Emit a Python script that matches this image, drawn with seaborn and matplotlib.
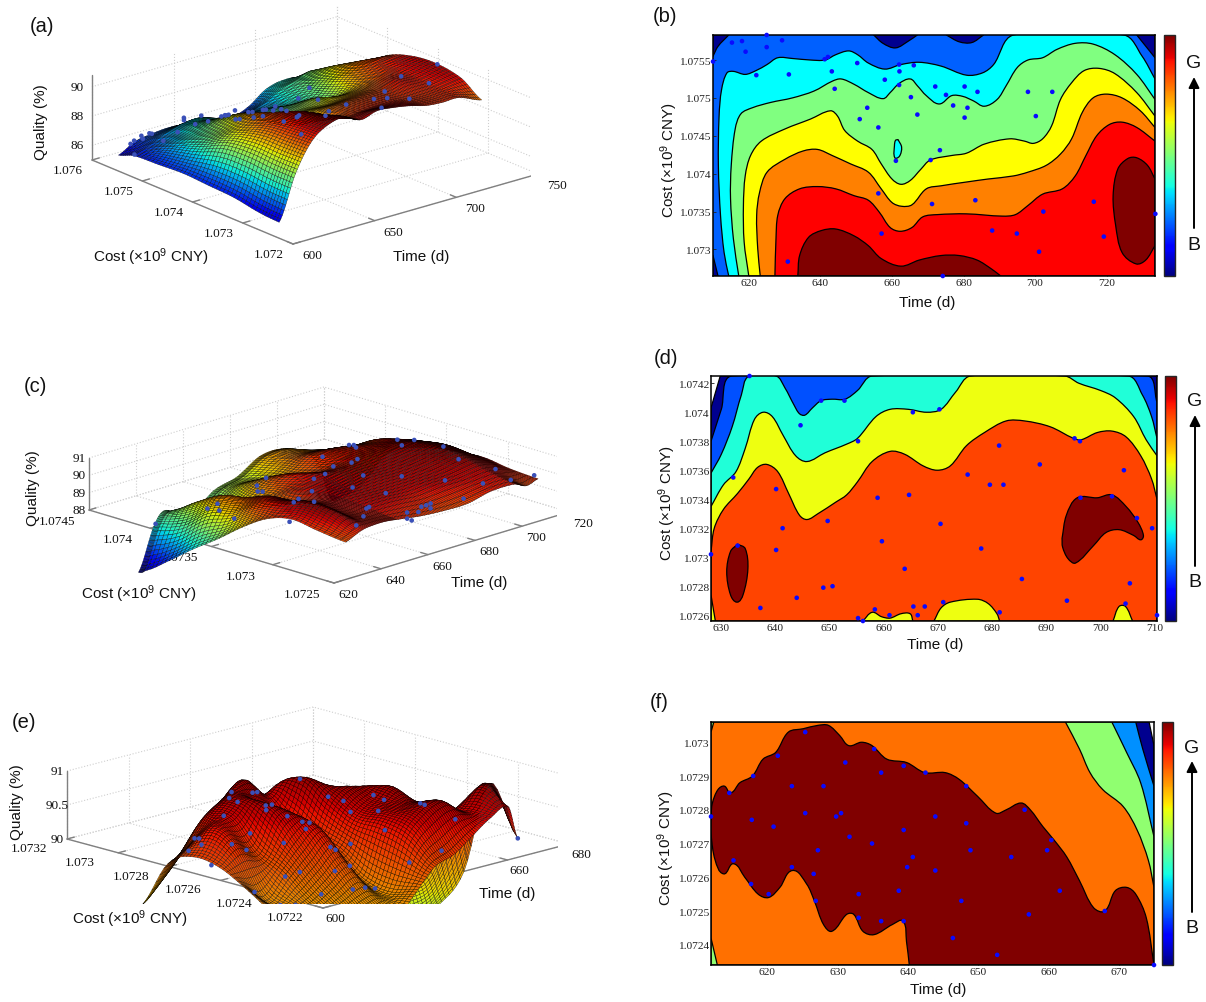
import numpy as np
import matplotlib
matplotlib.use("Agg")
import matplotlib.pyplot as plt
from matplotlib.path import Path
from matplotlib.patches import PathPatch, Rectangle, FancyArrowPatch
from matplotlib.cm import ScalarMappable
from matplotlib.colors import Normalize
from mpl_toolkits.mplot3d import proj3d
import seaborn as sns

sns.set_theme(style="white")
plt.rcParams["font.family"] = ["Liberation Sans", "DejaVu Sans"]
plt.rcParams["mathtext.default"] = "regular"

W, H = 1206, 1003
SERIF = ["Liberation Serif", "DejaVu Serif"]
COST_LABEL = r"Cost ($\times$10$^9$ CNY)"
jet = plt.get_cmap("jet")

# ---- surface (a): quality read at knots of time and cost
a_time = [610, 620, 630, 640, 650, 660, 670, 680, 690, 700, 710, 720, 734]
a_cost = [1.0726, 1.0730, 1.0735, 1.0740, 1.0745, 1.0750, 1.0755, 1.0758]
a_quality = [
    [85.3, 88.3, 90.2, 91.0, 91.2, 90.7, 91.0, 90.9, 90.7, 90.4, 90.3, 90.3, 89.7],
    [85.4, 88.3, 90.1, 90.9, 90.8, 90.2, 90.3, 90.4, 90.4, 90.3, 90.3, 90.4, 90.6],
    [85.7, 88.4, 89.9, 90.4, 90.3, 89.3, 89.8, 90.0, 90.1, 90.2, 90.5, 90.5, 90.9],
    [85.8, 88.2, 89.2, 89.8, 89.3, 88.3, 88.9, 89.0, 89.2, 89.4, 89.9, 90.4, 90.7],
    [85.9, 87.4, 88.2, 88.9, 88.7, 87.9, 87.9, 88.2, 88.5, 88.2, 89.3, 90.0, 90.0],
    [85.8, 86.8, 87.3, 87.8, 87.6, 87.4, 87.2, 87.4, 87.3, 87.6, 88.5, 89.1, 88.4],
    [85.7, 86.1, 86.6, 86.9, 87.0, 86.6, 86.5, 86.4, 86.7, 87.3, 87.7, 88.0, 87.0],
    [85.3, 85.9, 86.1, 86.2, 86.1, 85.6, 85.9, 85.7, 86.1, 86.9, 87.2, 87.0, 85.5],
]
# ---- surface (c)
c_time = [628, 635, 640, 645, 650, 660, 670, 680, 690, 700, 705, 710]
c_cost = [1.07256, 1.0728, 1.0730, 1.0732, 1.0734, 1.0736, 1.0738, 1.0740, 1.0742, 1.07425]
c_quality = [
    [89.9, 90.3, 90.4, 90.4, 90.3, 90.1, 90.0, 90.0, 90.3, 90.3, 90.0, 90.2],
    [90.1, 90.9, 90.5, 90.4, 90.5, 90.5, 90.4, 90.5, 90.5, 90.6, 90.5, 90.3],
    [90.3, 91.0, 90.6, 90.5, 90.6, 90.6, 90.6, 90.6, 90.7, 91.0, 90.8, 90.5],
    [89.9, 90.6, 90.4, 90.2, 90.5, 90.6, 90.7, 90.7, 90.8, 91.1, 91.0, 90.4],
    [89.0, 90.1, 90.3, 89.6, 90.2, 90.5, 90.6, 90.7, 90.8, 90.95, 90.8, 90.2],
    [87.9, 89.2, 89.8, 89.0, 89.5, 90.3, 90.0, 90.4, 90.5, 90.5, 90.5, 89.8],
    [86.9, 88.8, 89.5, 88.4, 88.9, 89.7, 89.5, 90.2, 90.2, 90.0, 90.0, 89.0],
    [85.8, 87.7, 88.7, 87.3, 88.0, 88.9, 88.9, 89.6, 89.6, 89.3, 88.8, 86.8],
    [84.8, 87.2, 87.8, 86.8, 87.0, 88.1, 88.5, 89.3, 89.3, 88.6, 87.6, 85.6],
    [84.6, 87.1, 87.7, 86.7, 86.9, 88.0, 88.4, 89.2, 89.2, 88.5, 87.5, 85.4],
]
# ---- surface (e)
e_time = [612, 618, 624, 630, 636, 642, 648, 654, 660, 666, 672, 675]
e_cost = [1.07234, 1.07245, 1.07255, 1.07265, 1.07275, 1.07285, 1.07295, 1.07306]
e_quality = [
    [88.9, 89.0, 89.1, 89.2, 89.3, 89.6, 89.9, 90.0, 90.2, 90.4, 90.5, 90.0],
    [89.2, 89.3, 89.3, 89.4, 89.5, 89.5, 90.2, 90.5, 90.6, 90.4, 90.7, 90.7],
    [89.45, 89.4, 89.5, 89.7, 89.9, 89.6, 90.3, 90.5, 90.5, 90.2, 90.0, 89.3],
    [89.7, 89.5, 89.8, 90.1, 90.3, 89.9, 90.3, 90.5, 90.6, 89.6, 89.1, 88.7],
    [89.9, 90.1, 90.0, 90.5, 90.4, 90.0, 90.5, 90.6, 90.3, 89.3, 88.8, 88.3],
    [89.95, 90.3, 90.4, 90.6, 90.3, 90.2, 90.7, 90.2, 89.5, 89.0, 88.5, 88.0],
    [89.75, 89.9, 90.3, 90.5, 90.7, 90.4, 90.4, 89.6, 89.1, 88.7, 88.1, 87.6],
    [89.0, 89.3, 89.6, 89.7, 89.7, 89.4, 89.3, 89.1, 88.9, 88.4, 87.5, 87.0],
]

# ---- sample points (same for surface and contour panel)
b_dot_t = [610, 615.3, 618.1, 625, 629.3, 625, 619.1, 622.1, 631.2, 641.2, 642.1, 643.2, 650.3, 644, 658, 662, 662.1,
           666.1, 662, 672.1, 675.1, 680.3, 683.9, 698, 704.8, 665.3, 677.1, 681.1, 653.1, 651, 667.1, 680.3, 700.2,
           656.2, 673.4, 661.1, 670.8, 656.2, 671.2, 683.3, 716.4, 702.3, 733.6, 657.1, 688, 694.9, 719.2, 701.1,
           630.9, 674.2]
b_dot_c = [1.07548, 1.07573, 1.07575, 1.07583, 1.07576, 1.07567, 1.07561, 1.0753, 1.07531, 1.07551, 1.07554, 1.07535,
           1.07546, 1.07512, 1.07524, 1.07544, 1.07535, 1.07543, 1.07517, 1.07515, 1.07504, 1.07515, 1.07508, 1.07508,
           1.07508, 1.07501, 1.0749, 1.07487, 1.07487, 1.07472, 1.07478, 1.07474, 1.07476, 1.07461, 1.07431, 1.07417,
           1.07418, 1.07374, 1.0736, 1.07365, 1.07363, 1.0735, 1.07347, 1.07321, 1.07325, 1.07321, 1.07317, 1.07297,
           1.07284, 1.07265]
a_dot_q = [85.8, 86.0, 86.1, 86.1, 86.2, 86.5, 86.4, 86.6, 86.9, 87.1, 87.2, 87.0, 87.2, 87.5, 87.3, 86.8, 87.0, 86.8,
           87.6, 87.2, 87.4, 87.1, 87.3, 87.4, 87.9, 87.6, 87.5, 87.5, 87.7, 88.0, 87.6, 87.6, 87.7, 88.1, 88.0, 88.3,
           88.4, 89.4, 89.5, 89.5, 90.4, 90.0, 90.9, 90.2, 90.3, 90.2, 90.5, 90.3, 90.3, 91.0]

d_dot_t = [635.3, 628.2, 632.3, 633.1, 637.3, 640.2, 640.2, 641.4, 644, 644.7, 648.5, 652.8, 649.7, 648.9, 650.6, 655.3,
           658.9, 659.7, 658.4, 655.3, 656.2, 661.1, 663.9, 664.7, 665.4, 665.5, 666.3, 667.6, 670.3, 670.5, 671, 675.5,
           678, 679.6, 681.3, 682.1, 681.4, 685.5, 688.8, 693.8, 695.2, 696.2, 696.3, 702.1, 704.3, 706.7, 709.5,
           705.4, 704.6, 710.4]
d_dot_c = [1.07425, 1.07302, 1.07355, 1.07308, 1.07265, 1.07347, 1.07305, 1.0732, 1.07272, 1.07391, 1.07408, 1.07408,
           1.07325, 1.07279, 1.0728, 1.0738, 1.07341, 1.07311, 1.07264, 1.07258, 1.07256, 1.0726, 1.07292, 1.07343,
           1.074, 1.07266, 1.0726, 1.07266, 1.07402, 1.07323, 1.07269, 1.07357, 1.07306, 1.0735, 1.07377, 1.0735,
           1.07262, 1.07285, 1.07364, 1.0727, 1.07382, 1.0738, 1.07341, 1.07342, 1.0736, 1.07327, 1.0732, 1.07282,
           1.07268, 1.0726]
c_dot_q = [87.1, 90.1, 89.0, 90.9, 90.3, 90.4, 90.7, 90.5, 90.4, 88.2, 87.8, 87.9, 90.5, 90.5, 90.5, 89.1, 90.5, 90.6,
           90.2, 90.1, 90.0, 90.2, 90.5, 90.5, 88.6, 90.2, 90.2, 90.2, 88.8, 90.6, 90.1, 90.2, 90.6, 90.4, 90.1, 90.5,
           90.1, 90.5, 90.6, 90.3, 90.1, 90.1, 90.9, 90.95, 90.5, 90.7, 90.0, 90.4, 90.1, 90.3]

f_dot_t = [612, 614.6, 618, 621.5, 625.4, 635.2, 631.1, 636.2, 639.4, 642.5, 648.3, 628, 623.5, 625.4, 629.8, 630.5,
           617.8, 620.9, 631.7, 634.9, 639.4, 643.9, 648.3, 656.6, 660.4, 627.2, 640.7, 648.9, 654.7, 659.8, 615.2,
           623.5, 626.6, 639.9, 643.9, 617.7, 620.2, 626.9, 633, 638.7, 647.6, 661.6, 633, 636.2, 639.4, 646.4, 652.7,
           657.2, 668, 675]
f_dot_c = [1.07278, 1.07285, 1.0729, 1.07296, 1.07303, 1.07298, 1.07294, 1.07291, 1.07293, 1.07291, 1.07287, 1.07287,
           1.07287, 1.07279, 1.07278, 1.07279, 1.07277, 1.07275, 1.07272, 1.0727, 1.07274, 1.07278, 1.07276, 1.0728,
           1.07271, 1.07268, 1.07266, 1.07268, 1.07266, 1.07268, 1.07265, 1.07263, 1.07261, 1.07263, 1.07262, 1.07258,
           1.07255, 1.07253, 1.07255, 1.07256, 1.07253, 1.07256, 1.07248, 1.07247, 1.07247, 1.07242, 1.07237, 1.07249,
           1.0725, 1.07234]
e_dot_q = [89.9, 90.1, 90.1, 90.0, 89.7, 90.5, 90.5, 90.55, 90.5, 90.3, 90.65, 90.55, 90.4, 90.2, 90.5, 90.55, 90.15,
           90.05, 90.45, 90.35, 90.15, 90.15, 90.5, 90.3, 90.2, 90.15, 89.95, 90.35, 90.55, 90.4, 89.6, 89.75, 89.8,
           89.95, 90.0, 89.45, 89.45, 89.55, 89.8, 89.8, 90.25, 90.45, 89.6, 89.6, 89.55, 89.9, 90.05, 90.55, 90.2,
           90.0]

# ---- contour (b) boundaries
b_nw_t = [610, 611.4, 614.4]
b_nw_c = [1.07555, 1.07568, 1.07583]
b_sw_t = [610, 611.4]
b_sw_c = [1.07292, 1.07265]
b_lens1_t = [654.9, 657.5, 661.0, 664.6, 667.1]
b_lens1_c = [1.07583, 1.07572, 1.07566, 1.07575, 1.07583]
b_lens2_t = [675.2, 678.8, 682.3, 685.6]
b_lens2_c = [1.07583, 1.07574, 1.07573, 1.07583]
b_ne_t = [728.4, 733.5]
b_ne_c = [1.07583, 1.07553]
b_cyan_t = [614.4, 613.1, 612.1, 611.5, 611.7, 612.4, 613.9, 615.7, 619.0, 622.0, 625.1, 628.1, 632.2, 637.2, 641.3,
            644.3, 647.9, 650.4, 653.4, 658.0, 662.5, 667.6, 673.7, 680.8, 685.3, 688.4, 694.0, 724.8, 729.9, 733.5]
b_cyan_c = [1.07265, 1.07296, 1.07345, 1.07411, 1.07476, 1.07511, 1.07533, 1.07535, 1.07531, 1.07536, 1.07544, 1.07553,
            1.07552, 1.0755, 1.0755, 1.07557, 1.07562, 1.07557, 1.07546, 1.07538, 1.07544, 1.07547, 1.07542, 1.0753,
            1.07533, 1.07544, 1.07583, 1.07583, 1.07555, 1.07525]
b_green_t = [617.2, 615.7, 614.9, 615.1, 616.2, 617.8, 621.0, 626.1, 632.2, 638.2, 643.3, 645.8, 649.4, 653.4, 657.5,
             659.5, 662.0, 665.1, 667.1, 669.6, 673.2, 676.7, 679.8, 682.8, 685.8, 689.4, 691.9, 695.0, 698.0, 702.1,
             706.1, 711.2, 716.2, 722.3, 728.4, 733.5]
b_green_c = [1.07265, 1.07314, 1.07367, 1.07411, 1.07459, 1.07479, 1.07487, 1.07494, 1.075, 1.07509, 1.07522, 1.07525,
             1.07518, 1.07507, 1.07499, 1.07507, 1.07519, 1.07525, 1.07516, 1.07503, 1.07492, 1.07503, 1.07502, 1.07496,
             1.07489, 1.07498, 1.07516, 1.0754, 1.0755, 1.07553, 1.07564, 1.07572, 1.07571, 1.07557, 1.07531, 1.07498]
b_blob_t = [661.7, 662.7, 662.1, 660.8, 660.7, 661.0, 661.7]
b_blob_c = [1.07445, 1.07435, 1.07423, 1.07421, 1.07437, 1.07444, 1.07445]
b_yellow_t = [620, 618.7, 618.5, 619, 620.5, 623.5, 630.1, 637.2, 642.8, 644.8, 646.8, 650.4, 654.4, 657, 660, 662.5,
              665.1, 668.1, 670.7, 676.7, 680.8, 685.8, 692.9, 697, 699.5, 702.1, 704.6, 707.1, 710.2, 713.7, 717.8,
              722.3, 728.4, 733.5]
b_yellow_c = [1.07265, 1.0731, 1.07358, 1.07397, 1.07424, 1.07443, 1.07459, 1.07472, 1.07483, 1.07476, 1.07457, 1.07443,
              1.07432, 1.07413, 1.07393, 1.07386, 1.07391, 1.07406, 1.07418, 1.07424, 1.07427, 1.07439, 1.07446, 1.07443,
              1.0744, 1.07446, 1.07463, 1.07498, 1.0752, 1.07536, 1.07539, 1.07532, 1.07507, 1.07476]
b_orange_t = [623.2, 622.5, 622.2, 623, 625.1, 630.1, 635.2, 639.2, 643.3, 648.4, 653.4, 657, 660, 662.7, 665.6, 669.6,
              673.7, 680.8, 686.9, 693.9, 698, 703.1, 707.1, 710.2, 713.2, 716.2, 719.8, 724.3, 729.4, 733.5]
b_orange_c = [1.07265, 1.07301, 1.07345, 1.07375, 1.07402, 1.07419, 1.0743, 1.07432, 1.07424, 1.07413, 1.07402, 1.0738,
              1.07362, 1.07357, 1.07359, 1.0738, 1.07384, 1.07389, 1.07393, 1.07397, 1.07402, 1.07411, 1.07426, 1.07446,
              1.07481, 1.075, 1.07505, 1.075, 1.07483, 1.07461]
b_red_t = [627.3, 627.6, 628.1, 630.1, 634.2, 639.2, 644.3, 649.4, 653.4, 656.5, 659.5, 662.3, 665.6, 668.6, 672.7,
           680.8, 690.9, 694.5, 698, 702.1, 707.6, 711.2, 714.2, 717.2, 720.8, 724.3, 728.4, 733.5]
b_red_c = [1.07265, 1.07314, 1.07345, 1.07367, 1.0738, 1.07383, 1.0738, 1.07371, 1.07365, 1.07349, 1.07329, 1.07324,
           1.07329, 1.07343, 1.07346, 1.07347, 1.07344, 1.07346, 1.07358, 1.07373, 1.0738, 1.07397, 1.07424, 1.0745,
           1.07465, 1.07468, 1.07461, 1.07443]
b_top1_t = [633.7, 634.2, 636.7, 640.3, 644.3, 649.4, 653.4, 657, 662.5, 667.6, 673.7, 678.8, 683.8, 687.9, 690.4]
b_top1_c = [1.07265, 1.07292, 1.07316, 1.07325, 1.07327, 1.07318, 1.07305, 1.07288, 1.07278, 1.07286, 1.07292, 1.07292,
            1.07286, 1.07274, 1.07265]
b_top2_t = [733.5, 731.4, 728.4, 725.9, 723.1, 721.8, 722.5, 724.3, 728.2, 730.9, 733.5]
b_top2_c = [1.07393, 1.07411, 1.07421, 1.0742, 1.07406, 1.07371, 1.07332, 1.07296, 1.07281, 1.07286, 1.07305]

# ---- contour (d) boundaries
d_navy_t = [628.2, 629.9]
d_navy_c = [1.07403, 1.07425]
d_blue_t = [628.2, 630.1, 632.1, 708.6, 710.4]
d_blue_c = [1.0738, 1.07402, 1.07425, 1.07425, 1.07407]
d_aqua_t = [628.2, 630.1, 632.1, 633.8, 635.2, 640.2, 641.8, 643.5, 644.5, 645.5, 646.9, 648.5, 650.5, 652.9, 655.2,
            657.9, 705.1, 707.7, 709.4, 710.4]
d_aqua_c = [1.07358, 1.07371, 1.0739, 1.07412, 1.07425, 1.07425, 1.07417, 1.07405, 1.07399, 1.07398, 1.07403, 1.07408,
            1.07409, 1.07409, 1.07415, 1.07425, 1.07425, 1.07412, 1.07397, 1.07382]
d_yellow_t = [628.2, 630.5, 632.8, 634.5, 636.2, 637.8, 639.5, 641.5, 643.8, 645.9, 649.2, 653.2, 655.2, 658.6, 661.2,
              664.6, 667.9, 670.6, 673.3, 676, 693.4, 696, 700, 702.7, 706.1, 708.4, 710.4]
d_yellow_c = [1.07335, 1.0735, 1.07359, 1.07375, 1.07395, 1.074, 1.07397, 1.07384, 1.0737, 1.07366, 1.07372, 1.07378,
              1.07382, 1.07397, 1.07402, 1.07402, 1.074, 1.07402, 1.07414, 1.07425, 1.07425, 1.0742, 1.07415, 1.0741,
              1.07397, 1.07381, 1.0737]
d_orange_t = [628.2, 628.8, 630.5, 633.1, 635.2, 636.8, 638.5, 640.5, 642.5, 644.5, 645.9, 647.9, 651.2, 653.2, 655.2,
              657.9, 661.2, 663.9, 667.3, 669.9, 672.3, 675.3, 678.6, 682.6, 686, 690.7, 695, 696.4, 699.4, 702.1,
              704.7, 707.4, 709.4, 710.4]
d_orange_c = [1.07304, 1.0732, 1.07333, 1.07344, 1.07354, 1.07362, 1.07364, 1.07359, 1.07344, 1.07329, 1.07326, 1.0733,
              1.07338, 1.07343, 1.07352, 1.07366, 1.07373, 1.07371, 1.07363, 1.0736, 1.07363, 1.07377, 1.07386, 1.07394,
              1.07394, 1.0739, 1.07382, 1.07381, 1.07386, 1.07387, 1.07383, 1.0737, 1.07354, 1.0734]
d_low1_t = [656.2, 657.9, 659.6, 661.2, 663.2, 664.9, 665.4]
d_low1_c = [1.07256, 1.07262, 1.07259, 1.07258, 1.07261, 1.07261, 1.07256]
d_low2_t = [669.3, 670.6, 672.3, 677.3, 679.3, 680.9, 681.4]
d_low2_c = [1.07256, 1.07265, 1.07269, 1.07271, 1.07268, 1.07261, 1.07256]
d_low3_t = [702.3, 703.4, 704.6, 705.9]
d_low3_c = [1.07256, 1.07266, 1.07266, 1.07256]
d_top1_t = [633.1, 634.5, 635, 634.1, 633, 631.8, 631.1, 631.8, 633.1]
d_top1_c = [1.07309, 1.07306, 1.07292, 1.07274, 1.07269, 1.07274, 1.0729, 1.07304, 1.07309]
d_top2_t = [692.9, 693.7, 695.7, 699.4, 702.1, 704.7, 706.9, 707.9, 707.4, 706.1, 703.4, 701, 698.7, 695.4, 694, 693,
            692.9]
d_top2_c = [1.07313, 1.07329, 1.07341, 1.07341, 1.07343, 1.07335, 1.07324, 1.07315, 1.07312, 1.07315, 1.07319, 1.07317,
            1.07308, 1.07296, 1.07299, 1.07307, 1.07313]

# ---- contour (f) boundaries
f_navy_t = [674.3, 675]
f_navy_c = [1.07306, 1.07299]
f_blue_t = [672.4, 673.4, 675]
f_blue_c = [1.07306, 1.07298, 1.07287]
f_green_t = [669, 671.1, 673.1, 675]
f_green_c = [1.07306, 1.07297, 1.07288, 1.07272]
f_orange_t = [662.4, 664.4, 665.9, 667.7, 670.6, 672.6, 674.2, 675]
f_orange_c = [1.07306, 1.07298, 1.07291, 1.07286, 1.07281, 1.07274, 1.07265, 1.07257]
f_top_t = [640.2, 639.8, 639.3, 637.8, 635.2, 633.6, 632.3, 631.3, 629.2, 628, 626.7, 625.6, 623.6, 621.8, 620.2, 618.7,
           616.8, 615.2, 613.8, 612.6, 612, 612, 612.2, 613, 613.9, 614.8, 616.1, 617.9, 619.4, 621.2, 623, 625.1,
           627.2, 628.7, 630.3, 631.6, 633.4, 634.9, 637, 639.8, 642.4, 645.3, 647.3, 649.9, 652.5, 654, 656.1, 657.4,
           659.2, 660.8, 662.6, 664.4, 666.4, 668, 669.5, 671.1, 672.4, 673.9, 675]
f_top_c = [1.07234, 1.07241, 1.07247, 1.07246, 1.07243, 1.07244, 1.07249, 1.07249, 1.07244, 1.07246, 1.07253, 1.07258,
           1.07262, 1.07257, 1.07254, 1.07255, 1.0726, 1.07264, 1.07261, 1.07265, 1.07273, 1.07278, 1.07282, 1.07286,
           1.07287, 1.07285, 1.07288, 1.0729, 1.07295, 1.07297, 1.07303, 1.07304, 1.07305, 1.07305, 1.07302, 1.07299,
           1.073, 1.07299, 1.07295, 1.07294, 1.07291, 1.07291, 1.07289, 1.07284, 1.07279, 1.0728, 1.07282, 1.0728,
           1.07275, 1.07271, 1.07266, 1.07259, 1.07251, 1.0725, 1.07256, 1.07257, 1.07255, 1.07248, 1.07234]

NAVY, DARKRED = "#00008f", "#800000"


def px_text(ax, x, y, s, size, rotation=0, family=None, z=2):
    # position given in picture pixels, y down
    kw = dict(family=family) if family else {}
    return ax.text2D(x / W, 1 - y / H, s, transform=fig.transFigure, ha="center", va="center", fontsize=size,
                     rotation=rotation, zorder=z, clip_on=False, color="#111111", **kw)


def smooth(t, c, corners, tlim, clim):
    # bezier through the read points, straight closing along the frame
    p = np.column_stack([(np.array(t) - tlim[0]) / (tlim[1] - tlim[0]) * 1.8,
                         (np.array(c) - clim[0]) / (clim[1] - clim[0])])
    n = len(p)
    tang = np.zeros_like(p)
    for i in range(n):
        v = p[min(i + 1, n - 1)] - p[max(i - 1, 0)]
        tang[i] = v / (np.hypot(*v) + 1e-12)
    verts, codes = [p[0]], [Path.MOVETO]
    for i in range(n - 1):
        L = np.hypot(*(p[i + 1] - p[i])) / 3
        verts += [p[i] + tang[i] * L, p[i + 1] - tang[i + 1] * L, p[i + 1]]
        codes += [Path.CURVE4] * 3
    verts = np.array(verts)
    verts[:, 0] = verts[:, 0] / 1.8 * (tlim[1] - tlim[0]) + tlim[0]
    verts[:, 1] = verts[:, 1] * (clim[1] - clim[0]) + clim[0]
    verts = list(verts)
    for cr in corners:
        verts.append(np.array(cr, dtype=float))
        codes.append(Path.LINETO)
    verts.append(verts[0])
    codes.append(Path.CLOSEPOLY)
    return Path(np.array(verts), codes)


def contour_panel(box, bar, tlim, clim, bg, layers, dot_t, dot_c, xticks, yticks, ylabels):
    x0, x1, y0, y1 = box
    ax = fig.add_axes([x0 / W, 1 - y1 / H, (x1 - x0) / W, (y1 - y0) / H])
    ax.set_facecolor(bg)
    for t, c, corners, color in layers:
        ax.add_patch(PathPatch(smooth(t, c, corners, tlim, clim), facecolor=color, edgecolor="black", lw=0.9,
                               joinstyle="round"))
    sns.scatterplot(x=dot_t, y=dot_c, ax=ax, color="#0a0aff", s=11, edgecolor="none", clip_on=False, zorder=5,
                    legend=False)
    ax.set_xlim(tlim)
    ax.set_ylim(clim)
    ax.set_xticks(xticks)
    ax.set_xticklabels([str(v) for v in xticks], family=SERIF, fontsize=8.2)
    ax.set_yticks(yticks)
    ax.set_yticklabels(ylabels, family=SERIF, fontsize=8.2)
    ax.tick_params(direction="in", length=2, width=0.6, pad=1.5, bottom=True, left=True, colors="#222222")
    for sp in ax.spines.values():
        sp.set_linewidth(1.1)
        sp.set_color("black")
    cax = fig.add_axes([bar[0] / W, 1 - y1 / H, (bar[1] - bar[0]) / W, (y1 - y0) / H])
    cb = fig.colorbar(ScalarMappable(Normalize(0, 1), jet), cax=cax, ticks=[])
    cb.outline.set_linewidth(1)
    return ax


def refine(values, m, axis):
    # catmull-rom through the knots, only to get a fine drawing mesh
    v = np.moveaxis(np.asarray(values, dtype=float), axis, 0)
    k = v.shape[0]
    u = np.linspace(0, k - 1, m)
    i = np.clip(np.floor(u).astype(int), 0, k - 2)
    f = u - i
    f = f.reshape((-1,) + (1,) * (v.ndim - 1))
    p0, p1, p2, p3 = v[np.clip(i - 1, 0, k - 1)], v[i], v[i + 1], v[np.clip(i + 2, 0, k - 1)]
    out = 0.5 * (2 * p1 + (p2 - p0) * f + (2 * p0 - 5 * p1 + 4 * p2 - p3) * f ** 2 + (3 * p1 - p0 - 3 * p2 + p3) * f ** 3)
    return np.moveaxis(out, 0, axis)


def to_px(ax, t, c, q):
    xs, ys, _ = proj3d.proj_transform(t, c, q, ax.get_proj())
    return ax.transData.transform((xs, ys))


def surface_panel(front, right, left, z_px, t_knots, c_knots, quality, vlim, tlim, clim, zlim, tticks, cticks, zticks,
                  ttexts, ctexts, ztexts, t_off, c_off, z_off, dots, clip_y=None):
    # view angle and box shape from the three visible floor edges
    tv = np.array(right) - front
    cv = np.array(left) - front
    ty, cy = -tv[1], -cv[1]
    s = np.sqrt(ty / tv[0] * cy / -cv[0])
    ratio = np.sqrt((cy / -cv[0]) / (ty / tv[0]))
    elev = np.degrees(np.arcsin(s))
    az = np.arctan(ratio)
    aspect = (tv[0] / np.sin(az), -cv[0] / np.cos(az), z_px / np.cos(np.arcsin(s)))
    ax = fig.add_axes([0.1, 0.1, 500 / W, 500 / H], projection="3d", proj_type="ortho", computed_zorder=False)
    ax.view_init(elev=elev, azim=-180 + np.degrees(az))
    ax.set_box_aspect(aspect)
    ax.set_axis_off()
    ax.patch.set_visible(False)
    ax.set_xlim(tlim)
    ax.set_ylim(clim)
    ax.set_zlim(zlim)
    # fit the axes so the floor corners land where they should
    for _ in range(3):
        ax.apply_aspect()
        pf = to_px(ax, tlim[0], clim[0], zlim[0])
        pr = to_px(ax, tlim[1], clim[0], zlim[0])
        scale = np.hypot(*(np.array(right) - front)) / np.hypot(*(pr - pf))
        pos = ax.get_position()
        size = pos.width * W * scale
        cx, cy_ = (pos.x0 + pos.width / 2) * W, (pos.y0 + pos.height / 2) * H
        ax.set_position([(cx - size / 2) / W, (cy_ - size / 2) / H, size / W, size / H])
        ax.apply_aspect()
        pf = to_px(ax, tlim[0], clim[0], zlim[0])
        dx, dy = front[0] - pf[0], (H - front[1]) - pf[1]
        pos = ax.get_position()
        ax.set_position([(pos.x0 * W + dx) / W, (pos.y0 * H + dy) / H, size / W, size / H])
    ax.apply_aspect()

    grid = dict(ls=":", color="#cfcfcf", lw=0.8, zorder=1)
    for t in tticks:
        ax.plot([t, t], [clim[0], clim[1]], [zlim[0], zlim[0]], **grid)
        ax.plot([t, t], [clim[1], clim[1]], [zlim[0], zlim[1]], **grid)
    for c in cticks:
        ax.plot([tlim[0], tlim[1]], [c, c], [zlim[0], zlim[0]], **grid)
        ax.plot([tlim[1], tlim[1]], [c, c], [zlim[0], zlim[1]], **grid)
    for q in zticks:
        ax.plot([tlim[0], tlim[1]], [clim[1], clim[1]], [q, q], **grid)
        ax.plot([tlim[1], tlim[1]], [clim[0], clim[1]], [q, q], **grid)
    edge = dict(color="#808080", lw=1.0, zorder=1.5)
    ax.plot(tlim, [clim[0], clim[0]], [zlim[0], zlim[0]], **edge)
    ax.plot([tlim[0], tlim[0]], clim, [zlim[0], zlim[0]], **edge)
    ax.plot([tlim[0], tlim[0]], [clim[1], clim[1]], zlim, **edge)
    for t in tticks:
        ax.plot([t, t], [clim[0], clim[0] + 0.03 * (clim[1] - clim[0])], [zlim[0], zlim[0]], **edge)
    for c in cticks:
        ax.plot([tlim[0], tlim[0] + 0.03 * (tlim[1] - tlim[0])], [c, c], [zlim[0], zlim[0]], **edge)

    for t, txt in ttexts:
        p = to_px(ax, t, clim[0], zlim[0])
        px_text(ax, p[0] + t_off[0], H - p[1] + t_off[1], txt, 9.5, family=SERIF)
    for c, txt in ctexts:
        p = to_px(ax, tlim[0], c, zlim[0])
        px_text(ax, p[0] + c_off[0], H - p[1] + c_off[1], txt, 9.5, family=SERIF)
    for q, txt in ztexts:
        p = to_px(ax, tlim[0], clim[1], q)
        px_text(ax, p[0] + z_off[0], H - p[1] + z_off[1], txt, 9.5, family=SERIF)

    nt, nc = 120, 50
    Z = refine(refine(quality, nc, 0), nt, 1)
    tt = np.interp(np.linspace(0, len(t_knots) - 1, nt), np.arange(len(t_knots)), t_knots)
    cc = np.interp(np.linspace(0, len(c_knots) - 1, nc), np.arange(len(c_knots)), c_knots)
    T, C = np.meshgrid(tt, cc)
    colors = jet(Normalize(*vlim)(0.25 * (Z[:-1, :-1] + Z[1:, :-1] + Z[:-1, 1:] + Z[1:, 1:])))
    colors[..., :3] *= 0.92
    surf = ax.plot_surface(T, C, Z, facecolors=colors, rstride=1, cstride=1, shade=False, linewidth=0.28,
                           edgecolor=(0, 0, 0, 0.8), zorder=3)
    pts = ax.scatter(dots[0], dots[1], dots[2], s=11, color="#3a50b8", depthshade=False, edgecolors="none", zorder=4)
    if clip_y is not None:
        keep = Rectangle((0, (H - clip_y) / H), 1, clip_y / H, transform=fig.transFigure)
        surf.set_clip_path(keep)
        pts.set_clip_path(keep)
    return ax


fig = plt.figure(figsize=(W / 100, H / 100), dpi=100, facecolor="white")

# ---- left column, surfaces
ax_a = surface_panel(np.array([293, 245]), (538, 175), (92, 161), 85, a_time, a_cost, a_quality, (84.8, 91.2),
                     (600, 750), (1.072, 1.076), (85, 90.8), [600, 650, 700, 750],
                     [1.072, 1.073, 1.074, 1.075, 1.076], [86, 88, 90],
                     [(600, "600"), (650, "650"), (700, "700"), (750, "750")],
                     [(1.072, "1.072"), (1.073, "1.073"), (1.074, "1.074"), (1.075, "1.075"), (1.076, "1.076")],
                     [(86, "86"), (88, "88"), (90, "90")], (19, 11), (-24, 10), (-15, 0),
                     (b_dot_t, b_dot_c, a_dot_q))
ax_c = surface_panel(np.array([334, 584]), (569, 513), (89, 511), 52, c_time, c_cost, c_quality, (84.6, 91.1),
                     (620, 720), (1.0725, 1.0745), (88, 91), [620, 640, 660, 680, 700, 720],
                     [1.0725, 1.073, 1.0735, 1.074, 1.0745], [88, 89, 90, 91],
                     [(620, "620"), (640, "640"), (660, "660"), (680, "680"), (700, "700"), (720, "720")],
                     [(1.0725, "1.0725"), (1.073, "1.073"), (1.0735, "1.0735"), (1.074, "1.074"), (1.0745, "1.0745")],
                     [(88, "88"), (89, "89"), (90, "90"), (91, "91")], (14, 11), (-32, 11), (-10, 0),
                     (d_dot_t, d_dot_c, c_dot_q))
ax_e = surface_panel(np.array([323, 909]), (569, 845), (67, 840), 68, e_time, e_cost, e_quality, (85.2, 90.9),
                     (600, 680), (1.0722, 1.0732), (90, 91), [600, 620, 640, 660, 680],
                     [1.0722, 1.0724, 1.0726, 1.0728, 1.073, 1.0732], [90, 90.5, 91],
                     [(600, "600"), (660, "660"), (680, "680")],
                     [(1.0722, "1.0722"), (1.0724, "1.0724"), (1.0726, "1.0726"), (1.0728, "1.0728"), (1.073, "1.073"),
                      (1.0732, "1.0732")],
                     [(90, "90"), (90.5, "90.5"), (91, "91")], (12, 10), (-38, 9), (-10, 0),
                     (f_dot_t, f_dot_c, e_dot_q), clip_y=905)

for ax, s, x, y in [(ax_a, "(a)", 42, 26), (ax_c, "(c)", 35, 386), (ax_e, "(e)", 24, 722)]:
    px_text(ax, x, y, s, 14.5)
for ax, x, y in [(ax_a, 151, 257), (ax_c, 139, 594), (ax_e, 130, 919)]:
    px_text(ax, x, y, COST_LABEL, 11)
for ax, x, y in [(ax_a, 421, 257), (ax_c, 479, 583), (ax_e, 507, 894)]:
    px_text(ax, x, y, "Time (d)", 11)
for ax, x, y in [(ax_a, 41, 122), (ax_c, 33, 488), (ax_e, 17, 802)]:
    px_text(ax, x, y, "Quality (%)", 11, rotation=90)

# ---- right column, contours
b_t, b_c = (610, 733.5), (1.07265, 1.07583)
b_se = [(733.5, 1.07265)]
ax_b = contour_panel((713, 1155, 36, 277), (1164, 1175), b_t, b_c, "#0060ff",
                     [(b_nw_t, b_nw_c, [(610, 1.07583)], NAVY), (b_sw_t, b_sw_c, [(610, 1.07265)], NAVY),
                      (b_lens1_t, b_lens1_c, [], NAVY), (b_lens2_t, b_lens2_c, [], NAVY),
                      (b_ne_t, b_ne_c, [(733.5, 1.07583)], NAVY),
                      (b_cyan_t, b_cyan_c, b_se, "#00ffff"), (b_green_t, b_green_c, b_se, "#80ff80"),
                      (b_blob_t, b_blob_c, [], "#00ffff"),
                      (b_yellow_t, b_yellow_c, b_se, "#ffff00"), (b_orange_t, b_orange_c, b_se, "#ff8000"),
                      (b_red_t, b_red_c, b_se, "#ff0000"), (b_top1_t, b_top1_c, [], DARKRED),
                      (b_top2_t, b_top2_c, [], DARKRED)],
                     b_dot_t, b_dot_c, [620, 640, 660, 680, 700, 720], [1.073, 1.0735, 1.074, 1.0745, 1.075, 1.0755],
                     ["1.073", "1.0735", "1.074", "1.0745", "1.075", "1.0755"])

d_t, d_c = (628.2, 710.4), (1.07256, 1.07425)
d_lo = [(710.4, 1.07256), (628.2, 1.07256)]
ax_d = contour_panel((711, 1157, 377, 622), (1165, 1176), d_t, d_c, "white",
                     [(d_navy_t, d_navy_c, [(710.4, 1.07425)] + d_lo, NAVY),
                      (d_blue_t, d_blue_c, d_lo, "#0050ff"), (d_aqua_t, d_aqua_c, d_lo, "#20ffd8"),
                      (d_yellow_t, d_yellow_c, d_lo, "#eeff10"),
                      (d_orange_t, d_orange_c, [(710.4, 1.07256), (629, 1.07256), (628.2, 1.07274)], "#ff4400"),
                      (d_low1_t, d_low1_c, [], "#eeff10"), (d_low2_t, d_low2_c, [], "#eeff10"),
                      (d_low3_t, d_low3_c, [], "#eeff10"),
                      (d_top1_t, d_top1_c, [], DARKRED), (d_top2_t, d_top2_c, [], DARKRED)],
                     d_dot_t, d_dot_c, [630, 640, 650, 660, 670, 680, 690, 700, 710],
                     [1.0726, 1.0728, 1.073, 1.0732, 1.0734, 1.0736, 1.0738, 1.074, 1.0742],
                     ["1.0726", "1.0728", "1.073", "1.0732", "1.0734", "1.0736", "1.0738", "1.074", "1.0742"])

f_t, f_c = (612, 675), (1.07234, 1.07306)
f_lo = [(675, 1.07234), (612, 1.07234), (612, 1.07306)]
ax_f = contour_panel((711, 1154, 723, 966), (1162, 1173), f_t, f_c, "white",
                     [(f_navy_t, f_navy_c, f_lo, NAVY), (f_blue_t, f_blue_c, f_lo, "#0090ff"),
                      (f_green_t, f_green_c, f_lo, "#90ff70"),
                      (f_orange_t, f_orange_c,
                       [(675, 1.07234), (612.9, 1.07234), (612, 1.07242), (612, 1.07303), (612.4, 1.07306)], "#ff7000"),
                      (f_top_t, f_top_c, [], DARKRED)],
                     f_dot_t, f_dot_c, [620, 630, 640, 650, 660, 670],
                     [1.0724, 1.0725, 1.0726, 1.0727, 1.0728, 1.0729, 1.073],
                     ["1.0724", "1.0725", "1.0726", "1.0727", "1.0728", "1.0729", "1.073"])

for s, x, y, tx, ty, cx, cy, ax_x, ay0, ay1, gy, by in [
        ("(b)", 665, 16, 927, 303, 669, 160, 1194, 229, 78, 63, 246),
        ("(d)", 666, 358, 935, 645, 667, 503, 1195, 567, 416, 402, 583),
        ("(f)", 659, 703, 938, 990, 666, 848, 1192, 913, 762, 749, 929)]:
    fig.text(x / W, 1 - y / H, s, fontsize=14.5, ha="center", va="center", color="#111111")
    fig.text(tx / W, 1 - ty / H, "Time (d)", fontsize=11, ha="center", va="center", color="#111111")
    fig.text(cx / W, 1 - cy / H, COST_LABEL, fontsize=11, rotation=90, ha="center", va="center", color="#111111")
    fig.text(ax_x / W, 1 - gy / H, "G", fontsize=14, ha="center", va="center", color="#111111")
    fig.text(ax_x / W, 1 - by / H, "B", fontsize=14, ha="center", va="center", color="#111111")
    fig.add_artist(FancyArrowPatch((ax_x / W, 1 - ay0 / H), (ax_x / W, 1 - ay1 / H),
                                   transform=fig.transFigure, arrowstyle="-|>", mutation_scale=16,
                                   lw=1.4, color="black", shrinkA=0, shrinkB=0))

fig.savefig("out.png", dpi=100, facecolor="white")
